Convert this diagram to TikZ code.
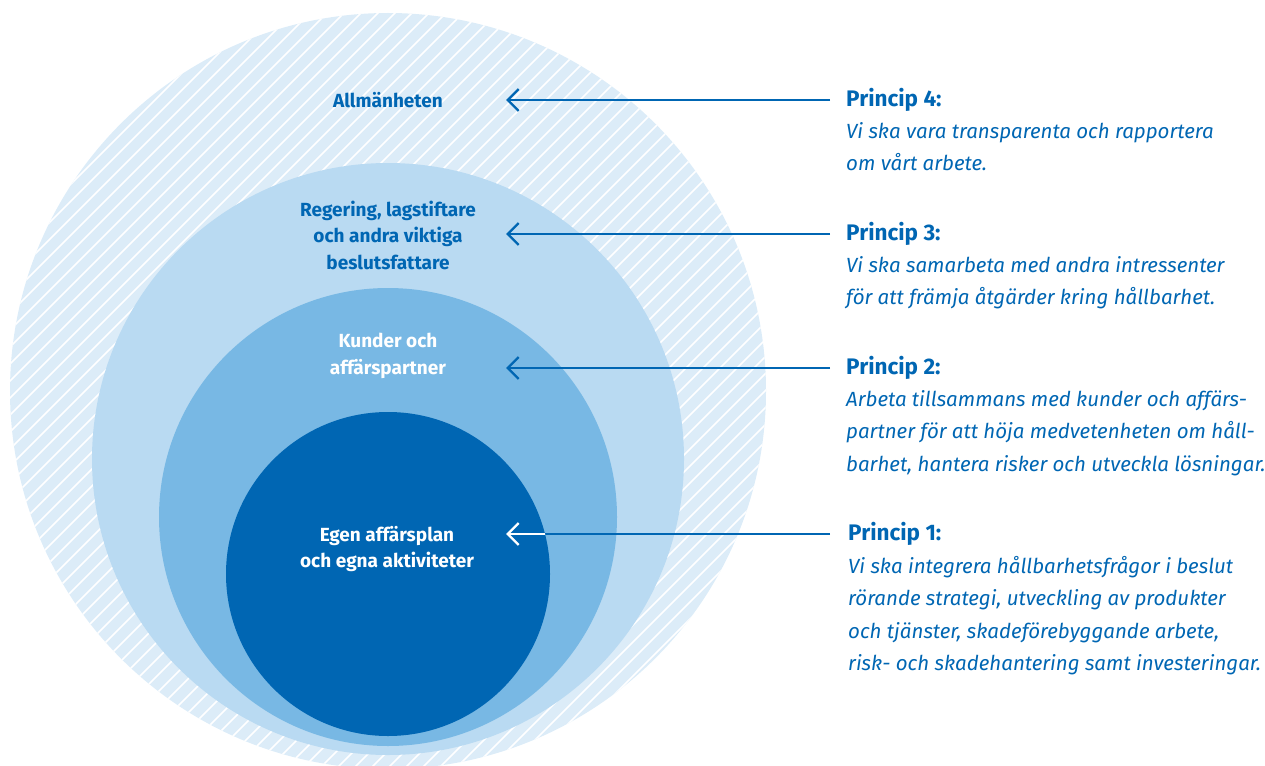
\documentclass[tikz,border=0pt]{standalone}
\usepackage{fontspec}
\setmainfont{Fira Sans}
\usetikzlibrary{
		positioning,
		arrows.meta
	}
\tikzset{
		>={Straight Barb[length=11pt,width=22pt]}
	}
\definecolor{coreblue}{RGB}{0, 102, 179}
\definecolor{midblue}{RGB}{120, 184, 228}
\definecolor{lightblue}{RGB}{185, 218, 242}
\definecolor{paleblue}{RGB}{220, 236, 248}

\begin{document}
\begin{tikzpicture}
		[x=1pt, y=-1pt,
		hatch/.style= {white, line width=1.5pt},
		circ label/.style= {align=center, inner sep=0pt, font=\fontsize{19}{26.5}\selectfont\bfseries},
		head/.style= {anchor=west, inner sep=0pt, text=coreblue, font=\fontsize{22.5}{26}\selectfont\bfseries},
		desc/.style= {align=left, inner sep=0pt, text=coreblue, font=\fontsize{20.5}{32.5}\selectfont\itshape},
		link/.style= {->, coreblue, line width=2.3pt}
		]

		\useasboundingbox (0,0) rectangle (1265,765);

		% rings
		\fill [paleblue] (388,391) circle [radius=378];
		\begin{scope}
			\clip (388,391) circle [radius=378];
			\foreach \i in {-780,-763,...,780}
				\draw [hatch] (\i,780) -- ++(780,-780);
		\end{scope}
		\fill [lightblue] (388,459) circle [radius=296];
		\fill [midblue] (388,517) circle [radius=229];
		\fill [coreblue] (388,574) circle [radius=162];

		% ring labels
		\node (L4) [circ label, text=coreblue] at (388,100) {Allmänheten};
		\node (L3) [circ label, text=coreblue] at (388,235) {Regering, lagstiftare\\och andra viktiga\\beslutsfattare};
		\node (L2) [circ label, text=white] at (388,356) {Kunder och\\affärspartner};
		\node (L1) [circ label, text=white] at (387,549) {Egen affärsplan\\och egna aktiviteter};

		\coordinate (T4) at (506,100);
		\coordinate (T3) at (506,234);
		\coordinate (T2) at (506,368);
		\coordinate (T1) at (506,534);

		% principles
		\node (P4) [head] at (846,100) {Princip 4:};
		\node (P4_txt) [desc, below=10pt of P4.south west, anchor=north west] {Vi ska vara transparenta och rapportera\\om vårt arbete.};
		\node (P3) [head] at (846,234) {Princip 3:};
		\node (P3_txt) [desc, below=10pt of P3.south west, anchor=north west] {Vi ska samarbeta med andra intressenter\\för att främja åtgärder kring hållbarhet.};
		\node (P2) [head] at (846,368) {Princip 2:};
		\node (P2_txt) [desc, below=10pt of P2.south west, anchor=north west] {Arbeta tillsammans med kunder och affärs-\\partner för att höja medvetenheten om håll-\\barhet, hantera risker och utveckla lösningar.};
		\node (P1) [head] at (848,534) {Princip 1:};
		\node (P1_txt) [desc, below=10pt of P1.south west, anchor=north west] {Vi ska integrera hållbarhetsfrågor i beslut\\rörande strategi, utveckling av produkter\\och tjänster, skadeförebyggande arbete,\\risk- och skadehantering samt investeringar.};

		\draw [link] ([xshift=-16pt]P4.west) -- (T4);
		\draw [link] ([xshift=-16pt]P3.west) -- (T3);
		\draw [link] ([xshift=-16pt]P2.west) -- (T2);
		\draw [link] ([xshift=-18pt]P1.west) -- (T1);
		\begin{scope}
			\clip (388,574) circle [radius=162];
			\draw [link, white] ([xshift=-18pt]P1.west) -- (T1);
		\end{scope}

	\end{tikzpicture}
\end{document}
